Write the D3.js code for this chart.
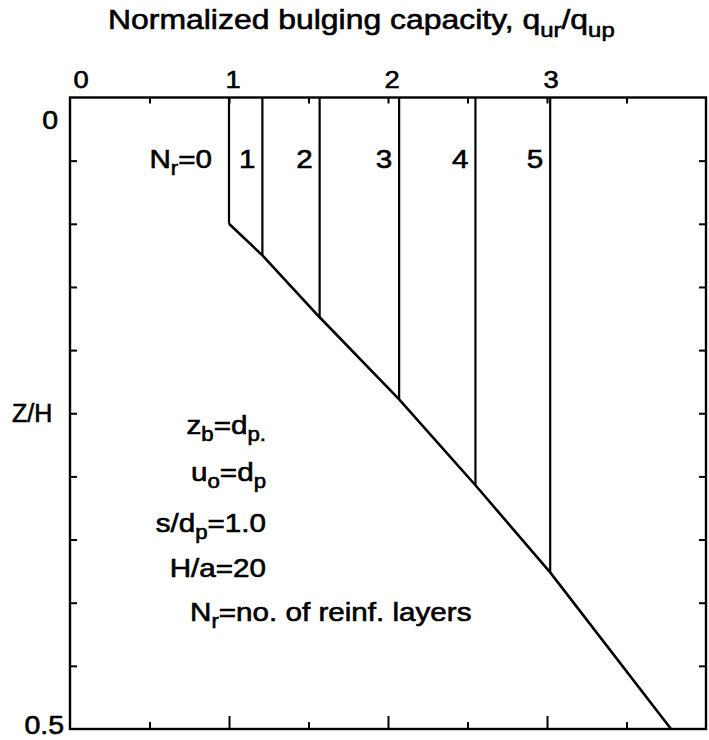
<!DOCTYPE html>
<html>
<head>
<meta charset="utf-8">
<script src="https://cdn.jsdelivr.net/npm/d3@7"></script>
<style>
  html, body { margin: 0; padding: 0; background: #fff; }
  svg text { font-family: "Liberation Sans", Arial, Helvetica, sans-serif; fill: #000; stroke: #000; stroke-width: 0.6px; }
</style>
</head>
<body>
<svg id="chart" width="709" height="740"></svg>
<script>
// Number of reinforcement layers for each curve
const layers = [0, 1, 2, 3, 4, 5];
// Normalized bulging capacity q_ur/q_up reached by each curve (vertical part)
const capacity = [1.0, 1.21, 1.57, 2.07, 2.55, 3.02];
// Depth Z/H where each vertical part meets the common envelope
const depthLimit = [0.100, 0.125, 0.174, 0.239, 0.307, 0.376];
// Lower end point of the envelope
const envelopeEndX = [3.78];
const envelopeEndZ = [0.5];
// Axis tick labels
const xTickLabels = [0, 1, 2, 3];
const yTickLabels = [0, 0.5];
// Parameter notes: [text, subscript, text, subscript]
const notes = [
  ["z", "b", "=d", "p."],
  ["u", "o", "=d", "p"],
  ["s/d", "p", "=1.0", ""],
  ["H/a=20", "", "", ""]
];

const svg = d3.select("#chart");
const plotLeft = 70, plotRight = 706, plotTop = 97.5, plotBottom = 729;
const stretch = 1.14;   // lettering is set slightly wide

const x = d3.scaleLinear().domain([0, 4]).range([plotLeft, plotRight]);
const y = d3.scaleLinear().domain([0, 0.5]).range([plotTop, plotBottom]);

const halfSteps = d3.range(0.5, 4, 0.5);
const zSteps = d3.range(1, 10).map(i => i * 0.05);

function styleAxis(g) {
  g.select(".domain").remove();
  g.selectAll(".tick line").attr("stroke", "#000").attr("stroke-width", 2);
  g.selectAll(".tick text").remove();
}

// Text with alternating normal / subscript runs, widened horizontally
function label(px, py, size, parts, anchor) {
  const t = svg.append("text")
    .attr("transform", `translate(${px},${py}) scale(${stretch},1)`)
    .attr("text-anchor", anchor || "start")
    .attr("font-size", size);
  let low = false;
  parts.forEach((p, i) => {
    const sub = i % 2 === 1;
    if (!p) { return; }
    const s = t.append("tspan").text(p);
    if (sub && !low) { s.attr("dy", size * 0.27).attr("font-size", size * 0.75); low = true; }
    else if (sub) { s.attr("font-size", size * 0.75); }
    else if (low) { s.attr("dy", -size * 0.27); low = false; }
  });
  return t;
}

// Top ticks, pointing inward
svg.append("g").attr("transform", `translate(0,${plotTop})`)
  .call(d3.axisTop(x).tickValues(halfSteps).tickSizeInner(-6).tickSizeOuter(0))
  .call(styleAxis);

// Bottom ticks: long at integers, short at halves
svg.append("g").attr("transform", `translate(0,${plotBottom})`)
  .call(d3.axisBottom(x).tickValues(halfSteps.filter(v => v % 1 !== 0)).tickSizeInner(-7).tickSizeOuter(0))
  .call(styleAxis);
svg.append("g").attr("transform", `translate(0,${plotBottom})`)
  .call(d3.axisBottom(x).tickValues(halfSteps.filter(v => v % 1 === 0)).tickSizeInner(-13).tickSizeOuter(0))
  .call(styleAxis);

// Left and right ticks
svg.append("g").attr("transform", `translate(${plotLeft},0)`)
  .call(d3.axisLeft(y).tickValues(zSteps).tickSizeInner(-7).tickSizeOuter(0))
  .call(styleAxis);
svg.append("g").attr("transform", `translate(${plotRight},0)`)
  .call(d3.axisRight(y).tickValues(zSteps).tickSizeInner(-7).tickSizeOuter(0))
  .call(styleAxis);

// Frame
svg.append("rect")
  .attr("x", plotLeft).attr("y", plotTop)
  .attr("width", plotRight - plotLeft).attr("height", plotBottom - plotTop)
  .attr("fill", "none").attr("stroke", "#000").attr("stroke-width", 2.4);

// Vertical capacity lines
svg.append("g").selectAll("line")
  .data(layers)
  .join("line")
  .attr("x1", (d, i) => x(capacity[i]))
  .attr("x2", (d, i) => x(capacity[i]))
  .attr("y1", y(0))
  .attr("y2", (d, i) => y(depthLimit[i]))
  .attr("stroke", "#000").attr("stroke-width", 2.2);

// Envelope joining the ends of the vertical lines
const envX = capacity.concat(envelopeEndX);
const envZ = depthLimit.concat(envelopeEndZ);
svg.append("path")
  .datum(envX.map((v, i) => [v, envZ[i]]))
  .attr("fill", "none").attr("stroke", "#000").attr("stroke-width", 2.6)
  .attr("stroke-linejoin", "round")
  .attr("d", d3.line().x(d => x(d[0])).y(d => y(d[1])));

// Top tick labels
xTickLabels.forEach(v => {
  label(x(v) + (v === 0 ? 11 : 4), 88, 24, [String(v)], "middle");
});

// Left tick labels
yTickLabels.forEach(v => {
  label(v === 0 ? plotLeft - 12 : plotLeft - 6, y(v) + (v === 0 ? 31 : 5), 25, [String(v)], "end");
});

// Axis titles
label(108, 29, 28, ["Normalized bulging capacity, q", "ur", "/q", "up"]);
svg.append("text")
  .attr("x", 12).attr("y", y(0.25) + 9)
  .attr("font-size", 25)
  .text("Z/H");

// Curve labels
layers.forEach((n, i) => {
  if (i === 0) {
    label(x(capacity[i]) - 17, 168, 26, ["N", "r", "=" + n], "end");
  } else {
    label(x(capacity[i]) - 7, 168, 26, [String(n)], "end");
  }
});

// Parameter notes
const noteY = [434, 481, 532, 577];
notes.forEach((parts, i) => label(266, noteY[i], 26, parts, "end"));
label(190, 621, 26, ["N", "r", "=no. of reinf. layers"]);
</script>
</body>
</html>
